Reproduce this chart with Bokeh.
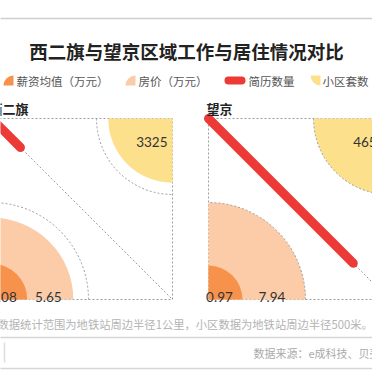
import numpy as np
from bokeh.plotting import figure
from bokeh.models import Range1d
from bokeh.core.properties import value
from bokeh.embed import file_html
from bokeh.resources import INLINE

# ---------------- data ----------------
regions = ["西二旗", "望京"]
salary = [1.08, 0.97]          # 薪资均值（万元）
house_price = [5.65, 7.94]     # 房价（万元）
resume_share = [0.16, 0.80]    # 简历数量 (share of the diagonal scale)
community = [3325, 4650]       # 小区套数
legend_labels = ["薪资均值（万元）", "房价（万元）", "简历数量", "小区套数"]
title_text = "西二旗与望京区域工作与居住情况对比"
note_text = "数据统计范围为地铁站周边半径1公里，小区数据为地铁站周边半径500米。"
source_text = "数据来源：e成科技、贝壳研究院"

# ---------------- style ----------------
C_SAL = "#F6924B"
C_HOUSE = "#FCCBA8"
C_COMM = "#FDE08C"
C_RES = "#EC3A36"
C_DOT = "#9C9C9C"
FONT = value("Noto Sans CJK SC")

W = H = 372
def X(rx):
    return rx
def Y(ry):
    return H - ry

p = figure(width=W, height=H, output_backend="svg", toolbar_location=None,
           x_axis_type=None, y_axis_type=None, min_border=0,
           x_range=Range1d(0, W), y_range=Range1d(0, H))
p.outline_line_color = None
p.grid.visible = False
p.background_fill_color = "white"
p.border_fill_color = "white"

# header
p.line(x=[X(-10), X(380)], y=[Y(18), Y(18)], line_color="#cfcfcf", line_width=1.5)
p.text(x=[X(186)], y=[Y(50)], text=[title_text], text_font=FONT,
       text_font_size="18.5px", text_font_style="bold", text_color="#222222",
       text_align="center", text_baseline="middle")

# legend
ly = Y(80)
p.wedge(x=[X(13)], y=[ly - 5], radius=10, start_angle=np.pi / 2, end_angle=np.pi,
        fill_color=C_SAL, line_color=None)
p.wedge(x=[X(135)], y=[ly - 5], radius=10, start_angle=np.pi / 2, end_angle=np.pi,
        fill_color=C_HOUSE, line_color=None)
p.line(x=[X(228), X(241)], y=[ly, ly], line_color=C_RES, line_width=8, line_cap="round")
p.wedge(x=[X(320)], y=[ly + 5], radius=10, start_angle=np.pi, end_angle=1.5 * np.pi,
        fill_color=C_COMM, line_color=None)
p.text(x=[X(16), X(138), X(248), X(322)], y=[ly] * 4, text=legend_labels,
       text_font=FONT, text_font_size="11.5px", text_color="#555555",
       text_align="left", text_baseline="middle")

# panels
size = 181
panel_left = [-9, 208]
k_price = 97 / np.sqrt(max(house_price))
k_comm = 76 / np.sqrt(max(community))
for i, name in enumerate(regions):
    ox, oy = X(panel_left[i]), Y(299)
    tx, ty = ox + size, oy + size
    p.quad(left=[ox], right=[tx], bottom=[oy], top=[ty], fill_color=None,
           line_color=C_DOT, line_dash="2 2", line_width=1)
    r_h = k_price * np.sqrt(house_price[i])
    r_s = k_price * np.sqrt(salary[i])
    r_hmax = k_price * np.sqrt(max(house_price))
    p.wedge(x=[ox], y=[oy], radius=r_h, start_angle=0, end_angle=np.pi / 2,
            fill_color=C_HOUSE, line_color=None)
    p.wedge(x=[ox], y=[oy], radius=r_s, start_angle=0, end_angle=np.pi / 2,
            fill_color=C_SAL, line_color=None)
    p.arc(x=[ox], y=[oy], radius=r_hmax, start_angle=0, end_angle=np.pi / 2,
          line_color=C_DOT, line_dash="2 2", line_width=1)
    r_c = k_comm * np.sqrt(community[i])
    r_cmax = k_comm * np.sqrt(max(community))
    p.wedge(x=[tx], y=[ty], radius=r_c, start_angle=np.pi, end_angle=1.5 * np.pi,
            fill_color=C_COMM, line_color=None)
    p.arc(x=[tx], y=[ty], radius=r_cmax, start_angle=np.pi, end_angle=1.5 * np.pi,
          line_color=C_DOT, line_dash="2 2", line_width=1)
    p.line(x=[ox, tx], y=[ty, oy], line_color=C_DOT, line_dash="2 2", line_width=1)
    f = resume_share[i]
    p.line(x=[ox, ox + f * size], y=[ty, ty - f * size], line_color=C_RES,
           line_width=9, line_cap="round")
    p.text(x=[ox - 2], y=[Y(108)], text=[name], text_font=FONT, text_font_size="13px",
           text_font_style="bold", text_color="#222222", text_align="left",
           text_baseline="middle")
    p.text(x=[ox + r_s / 2 - 6, ox + (r_s + r_h) / 2 - 2], y=[Y(296)] * 2,
           text=[f"{salary[i]:.2f}", f"{house_price[i]:.2f}"], text_font=value("Lato"),
           text_font_size="13.5px", text_color="#333333", text_align="center",
           text_baseline="alphabetic")
    p.text(x=[tx - 5], y=[Y(141)], text=[str(community[i])], text_font=value("Lato"),
           text_font_size="13.5px", text_color="#333333", text_align="right",
           text_baseline="middle")

# footnote
p.text(x=[X(-3)], y=[Y(323)], text=[note_text], text_font=FONT, text_font_size="11.3px",
       text_color="#b3b3b3", text_align="left", text_baseline="middle")
p.line(x=[X(-10), X(380)], y=[Y(337), Y(337)], line_color="#d6d6d6", line_width=1.5)
p.line(x=[X(4), X(4)], y=[Y(342), Y(362)], line_color="#dddddd", line_width=1.5)
p.line(x=[X(-10), X(380)], y=[Y(368), Y(368)], line_color="#d6d6d6", line_width=1.5)
p.text(x=[X(253)], y=[Y(352)], text=[source_text], text_font=FONT, text_font_size="11px",
       text_color="#aaaaaa", text_align="left", text_baseline="middle")

open("out.html", "w").write(file_html(p, INLINE))
